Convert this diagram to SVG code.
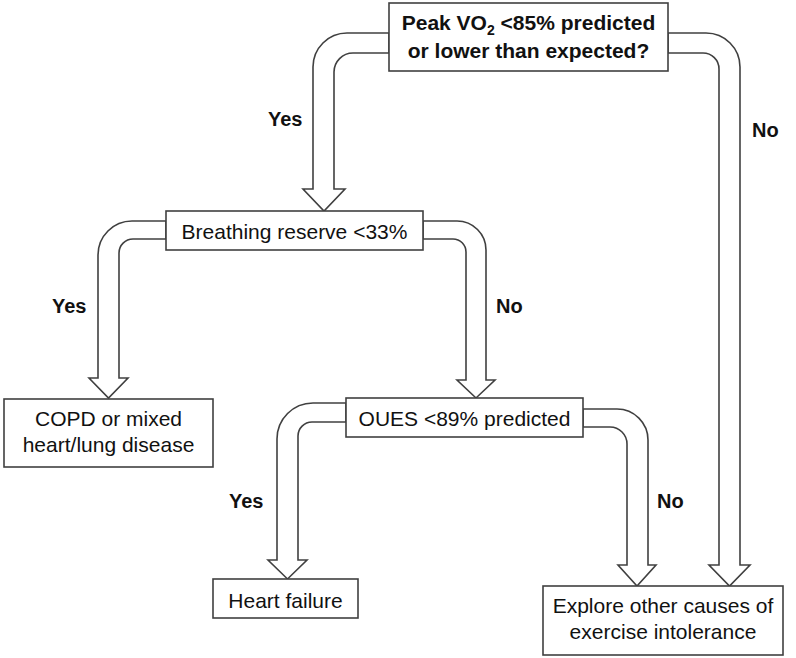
<svg xmlns="http://www.w3.org/2000/svg" width="796" height="658" viewBox="0 0 796 658">
<style>
.box{fill:#fff;stroke:#404040;stroke-width:1.6}
.arr{fill:#fff;stroke:#404040;stroke-width:1.6;stroke-linejoin:miter}
.t{font-family:"Liberation Sans",Arial,sans-serif;font-size:21px;fill:#111;text-anchor:middle}
.b{font-weight:bold}
.lbl{font-family:"Liberation Sans",Arial,sans-serif;font-size:20px;font-weight:bold;fill:#111}
</style>
<rect width="796" height="658" fill="#fff"/>
<g id="connectors">
  <path class="arr" d="M389,33 H347 A34,34 0 0 0 313,67 V189 H303 L324,211 L345,189 H334 V72 A19,19 0 0 1 353,53 H389 Z"/>
  <path class="arr" d="M668,33 H706 A34,34 0 0 1 740,67 V565 H750 L729.5,586 L709,565 H719 V69 A16,16 0 0 0 703,53 H668 Z"/>
  <path class="arr" d="M166,221 H132 A34,34 0 0 0 98,255 V378 H89 L108.5,398 L128,378 H119 V253 A14,14 0 0 1 133,239 H166 Z"/>
  <path class="arr" d="M423,221 H457 A29,29 0 0 1 486,250 V380 H495 L476,398 L457,380 H466 V252 A13,13 0 0 0 453,239 H423 Z"/>
  <path class="arr" d="M346,403 H313 A36,36 0 0 0 277,439 V560 H268 L287.5,579 L307,560 H298 V436 A14,14 0 0 1 312,422 H346 Z"/>
  <path class="arr" d="M583,409 H617 A31,31 0 0 1 648,440 V565 H656 L637,586 L618,565 H627 V444 A17,17 0 0 0 610,427 H583 Z"/>
</g>
<g id="labels">
  <text class="lbl" x="268" y="126">Yes</text>
  <text class="lbl" x="752" y="137">No</text>
  <text class="lbl" x="52" y="313">Yes</text>
  <text class="lbl" x="496" y="313">No</text>
  <text class="lbl" x="229" y="508">Yes</text>
  <text class="lbl" x="657" y="508">No</text>
</g>
<g id="n-peak">
  <rect class="box" x="389" y="3" width="279" height="68"/>
  <text class="t b" x="528.5" y="30">Peak VO<tspan font-size="14" dy="5">2</tspan><tspan dy="-5"> &lt;85% predicted</tspan></text>
  <text class="t b" x="528.5" y="58">or lower than expected?</text>
</g>
<g id="n-breathing">
  <rect class="box" x="166" y="211" width="257" height="39"/>
  <text class="t" x="294.5" y="239">Breathing reserve &lt;33%</text>
</g>
<g id="n-copd">
  <rect class="box" x="4" y="399" width="209" height="68"/>
  <text class="t" x="108.5" y="426">COPD or mixed</text>
  <text class="t" x="108.5" y="452">heart/lung disease</text>
</g>
<g id="n-oues">
  <rect class="box" x="346" y="398" width="237" height="39"/>
  <text class="t" x="464.5" y="426">OUES &lt;89% predicted</text>
</g>
<g id="n-heart">
  <rect class="box" x="213" y="579" width="145" height="39"/>
  <text class="t" x="285.5" y="608">Heart failure</text>
</g>
<g id="n-explore">
  <rect class="box" x="543" y="586" width="240" height="69"/>
  <text class="t" x="663" y="613">Explore other causes of</text>
  <text class="t" x="663" y="639">exercise intolerance</text>
</g>
</svg>
